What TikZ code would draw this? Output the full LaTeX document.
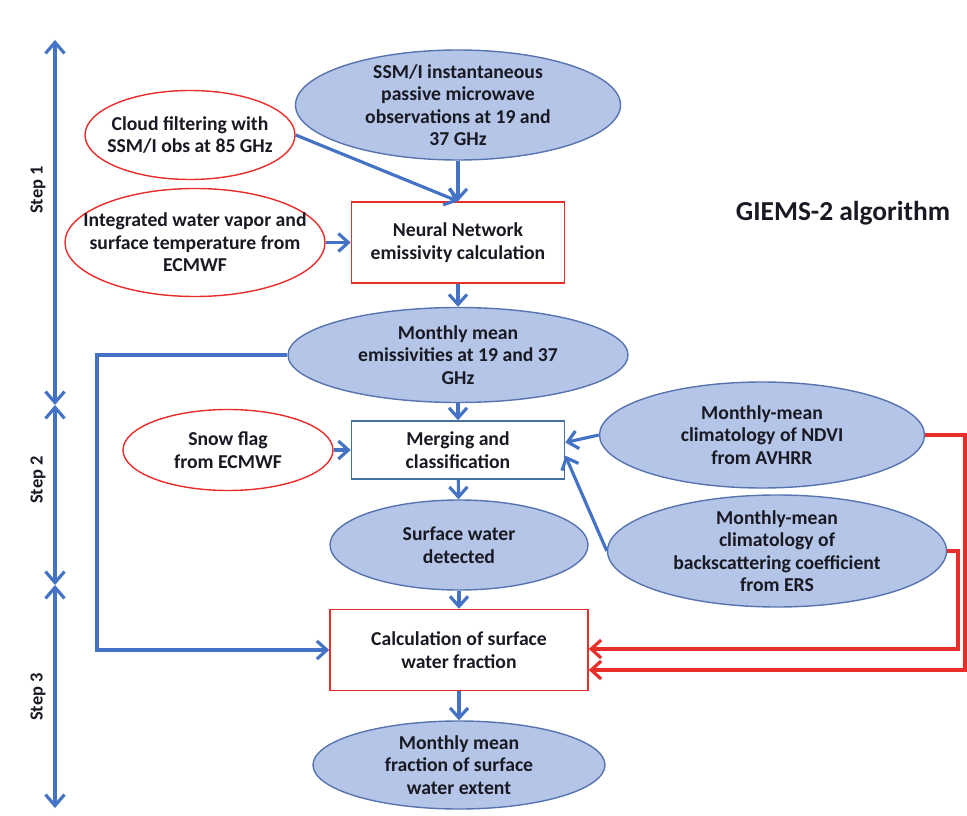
\documentclass[tikz,border=0pt]{standalone}
\usepackage{fontspec}
\setmainfont{Carlito}
\usetikzlibrary{shapes.geometric,arrows.meta}

\definecolor{ellfill}{RGB}{180,197,231}
\definecolor{elldraw}{RGB}{88,116,176}
\definecolor{lineblue}{RGB}{68,114,196}
\definecolor{linered}{RGB}{232,46,42}
\definecolor{mergeedge}{RGB}{65,113,156}
\definecolor{txt}{RGB}{25,25,35}

\begin{document}
\begin{tikzpicture}[
  font=\fontsize{11.2}{12.8}\selectfont\bfseries, text=txt,
  blueell/.style={ellipse, draw=elldraw, fill=ellfill, line width=0.8pt, label={[align=center]center:#1}},
  redell/.style={ellipse, draw=linered, fill=white, line width=0.8pt, label={[align=center]center:#1}},
  procbox/.style={rectangle, draw=linered, line width=0.9pt, align=center, minimum width=4.26cm},
  flow/.style={draw=lineblue, line width=1.8pt, -{Straight Barb[length=2mm,width=3.6mm]}},
  redflow/.style={draw=linered, line width=1.8pt, -{Straight Barb[length=2mm,width=3.6mm]}},
  stepaxis/.style={draw=lineblue, line width=1.8pt, {Straight Barb[length=2.2mm,width=3.8mm]}-{Straight Barb[length=2.2mm,width=3.8mm]}}
]
\useasboundingbox (0,0) rectangle (19.34,16.3);

% step axis
\coordinate (ax0) at (1.1,15.5);
\coordinate (ax1) at (1.1,8.2);
\coordinate (ax2) at (1.1,4.6);
\coordinate (ax3) at (1.1,0.14);
\draw[stepaxis] (ax0) -- (ax1);
\draw[stepaxis] (ax1) -- (ax2);
\draw[stepaxis] (ax2) -- (ax3);
\node[rotate=90, font=\fontsize{10.5}{12}\selectfont\bfseries] (step1) at (0.76,12.5) {Step 1};
\node[rotate=90, font=\fontsize{10.5}{12}\selectfont\bfseries] (step2) at (0.76,6.7) {Step 2};
\node[rotate=90, font=\fontsize{10.5}{12}\selectfont\bfseries] (step3) at (0.76,2.36) {Step 3};

% step 1
\node[blueell={SSM/I instantaneous\\passive microwave\\observations at 19 and\\37 GHz}, minimum width=6.5cm, minimum height=2.2cm] (ssmi) at (9.16,14.2) {};
\node[redell={Cloud filtering with\\SSM/I obs at 85 GHz}, minimum width=4.2cm, minimum height=1.78cm] (cloud) at (3.8,13.6) {};
\node[redell={Integrated water vapor and\\surface temperature from\\ECMWF}, minimum width=5.2cm, minimum height=2.16cm] (iwv) at (3.9,11.45) {};
\node[procbox, minimum height=1.62cm] (nn) at (9.16,11.45) {Neural Network\\emissivity calculation};
\node[font=\fontsize{15.6}{18}\selectfont\bfseries] (title) at (16.86,12.04) {GIEMS-2 algorithm};

% step 2
\node[blueell={Monthly mean\\emissivities at 19 and 37\\GHz}, minimum width=6.8cm, minimum height=1.9cm] (mm) at (9.16,9.2) {};
\node[redell={Snow flag\\from ECMWF}, minimum width=4.2cm, minimum height=1.62cm] (snow) at (4.56,7.3) {};
\node[procbox, draw=mergeedge, minimum height=1.16cm] (merge) at (9.16,7.3) {Merging and\\classification};
\node[blueell={Monthly-mean\\climatology of NDVI\\from AVHRR}, minimum width=6.5cm, minimum height=2.12cm] (ndvi) at (15.24,7.6) {};
\node[blueell={Monthly-mean\\climatology of\\backscattering coefficient\\from ERS}, minimum width=6.78cm, minimum height=2.24cm] (ers) at (15.54,5.28) {};
\node[blueell={Surface water\\detected}, minimum width=5.16cm, minimum height=1.8cm] (swd) at (9.18,5.4) {};

% step 3
\node[procbox, minimum width=5.16cm, minimum height=1.62cm] (calc) at (9.18,3.3) {Calculation of surface\\water fraction};
\node[blueell={Monthly mean\\fraction of surface\\water extent}, minimum width=5.84cm, minimum height=1.76cm] (final) at (9.18,1.0) {};

% connectors
\draw[flow] (ssmi) -- (nn);
\draw[flow] (cloud.east) -- (nn.north);
\draw[flow] (iwv) -- (nn);
\draw[flow] (nn) -- (mm);
\draw[flow] (mm) -- (merge);
\draw[flow] (snow) -- (merge);
\draw[flow] (ndvi.west) -- (merge.4);
\draw[flow] (ers.west) -- (merge.-3);
\draw[flow] (merge) -- (swd);
\draw[flow] (swd) -- (calc);
\draw[flow] (calc) -- (final);
\coordinate (elb) at (1.94,0);
\draw[flow] (mm.west) -- (mm.west -| elb) |- (calc.west);
\coordinate (redA) at (19.16,3.32);
\coordinate (redB) at (19.3,2.9);
\draw[redflow] (ers.east) -| (redA) -- (redA -| calc.east);
\draw[redflow] (ndvi.east) -| (redB) -- (redB -| calc.east);
\end{tikzpicture}
\end{document}
